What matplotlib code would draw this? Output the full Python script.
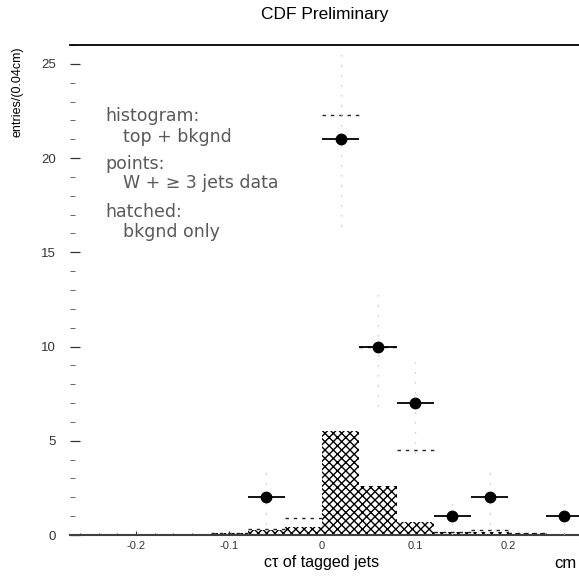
#import Libraries for Visualization
import numpy as np
import matplotlib
matplotlib.use("Agg")
import matplotlib.pyplot as plt
from matplotlib.ticker import MultipleLocator, FixedLocator

plt.rcParams['font.family'] = ['Liberation Sans', 'DejaVu Sans']
plt.rcParams['hatch.linewidth'] = 1.0

# histogram bins (0.04 cm wide)
bin_centers = [-0.10, -0.06, -0.02, 0.02, 0.06, 0.10, 0.14, 0.18, 0.22]
bin_width = 0.04
# hatched : bkgnd only
bkgnd_only = [0.1, 0.25, 0.4, 5.5, 2.6, 0.7, 0.15, 0.15, 0.1]
# dotted histogram : top + bkgnd
top_bkgnd = [0.12, 0.3, 0.9, 22.3, 10.0, 4.5, 0.15, 0.27, 0.1]

# points : W + >=3 jets data
data_x = [-0.06, 0.02, 0.06, 0.10, 0.14, 0.18, 0.26]
data_n = [2, 21, 10, 7, 1, 2, 1]

x_ticks = [-0.2, -0.1, 0.0, 0.1, 0.2]
x_tick_labels = ["-0.2", "-0.1", "0", "0.1", "0.2"]
y_ticks = [0, 5, 10, 15, 20, 25]

W, H = 579, 583
fig = plt.figure(figsize=(W / 100, H / 100), dpi=100)
ax = fig.add_axes([70 / W, 48 / H, (579 - 70) / W, (535 - 45) / H])

# hatched background histogram
ax.bar(bin_centers, bkgnd_only, width=bin_width, facecolor="white",
       edgecolor="black", hatch="xxxx", linewidth=0, zorder=2)

# dotted top + background histogram (only the bin tops)
centers = np.array(bin_centers)
ax.hlines(top_bkgnd, centers - bin_width / 2, centers + bin_width / 2,
          colors="0.15", linestyles=(0, (2.5, 3.5)), linewidth=1.0, zorder=3)

# data points with (faded) error bars
err = np.sqrt(np.array(data_n, dtype=float))
ax.vlines(data_x, np.array(data_n) - err, np.array(data_n) + err,
          colors="0.75", linestyles=(0, (1, 7)), linewidth=0.9, zorder=3)
ax.errorbar(data_x, data_n, xerr=bin_width / 2, fmt="o", color="black",
            markersize=7.5, elinewidth=1.3, capsize=0, zorder=4)

ax.set_xlim(-0.271, 0.276)
ax.set_ylim(0, 26)

# spines like the old paper plot
ax.spines["right"].set_visible(False)
ax.spines["left"].set_visible(False)
ax.spines["top"].set_linewidth(1.3)
ax.spines["bottom"].set_linewidth(1.5)
ax.spines["bottom"].set_color("0.25")

ax.xaxis.set_major_locator(FixedLocator(x_ticks))
ax.set_xticklabels(x_tick_labels)
ax.xaxis.set_minor_locator(MultipleLocator(0.02))
ax.yaxis.set_major_locator(FixedLocator(y_ticks))
ax.yaxis.set_minor_locator(MultipleLocator(1))

ax.tick_params(axis="y", which="major", direction="in", length=7, width=0.9,
               labelsize=9.5, pad=10, colors="0.2")
ax.tick_params(axis="y", which="minor", direction="in", length=3.5, width=0.7, colors="0.4")
ax.tick_params(axis="x", which="major", direction="in", length=3, width=0.8,
               labelsize=8, pad=4, colors="0.2", top=False)
ax.tick_params(axis="x", which="minor", direction="in", length=1.5, width=0.8,
               colors="0.3", top=False)

# legend written as plain text
text_kw = dict(transform=fig.transFigure, fontsize=12.5, color="0.35", va="center",
               family=["DejaVu Sans", "Liberation Sans"])
fig.text(105 / W, 1 - 116 / H, "histogram:", **text_kw)
fig.text(123 / W, 1 - 137 / H, "top + bkgnd", **text_kw)
fig.text(105 / W, 1 - 164 / H, "points:", **text_kw)
fig.text(123 / W, 1 - 183 / H, "W + \u2265 3 jets data", **text_kw)
fig.text(105 / W, 1 - 212 / H, "hatched:", **text_kw)
fig.text(123 / W, 1 - 232 / H, "bkgnd only", **text_kw)

# titles and axis labels
fig.text(325 / W, 1 - 15 / H, "CDF Preliminary", ha="center", va="center", fontsize=12.5)
fig.text(18 / W, 1 - 92 / H, "entries/(0.04cm)", rotation=90, ha="center",
         va="center", fontsize=9)
fig.text(322 / W, 1 - 563 / H, "c\u03c4 of tagged jets", ha="center", va="center", fontsize=11.5)
fig.text(565 / W, 1 - 563 / H, "cm", ha="center", va="center", fontsize=12)

fig.savefig("out.png", dpi=100)
